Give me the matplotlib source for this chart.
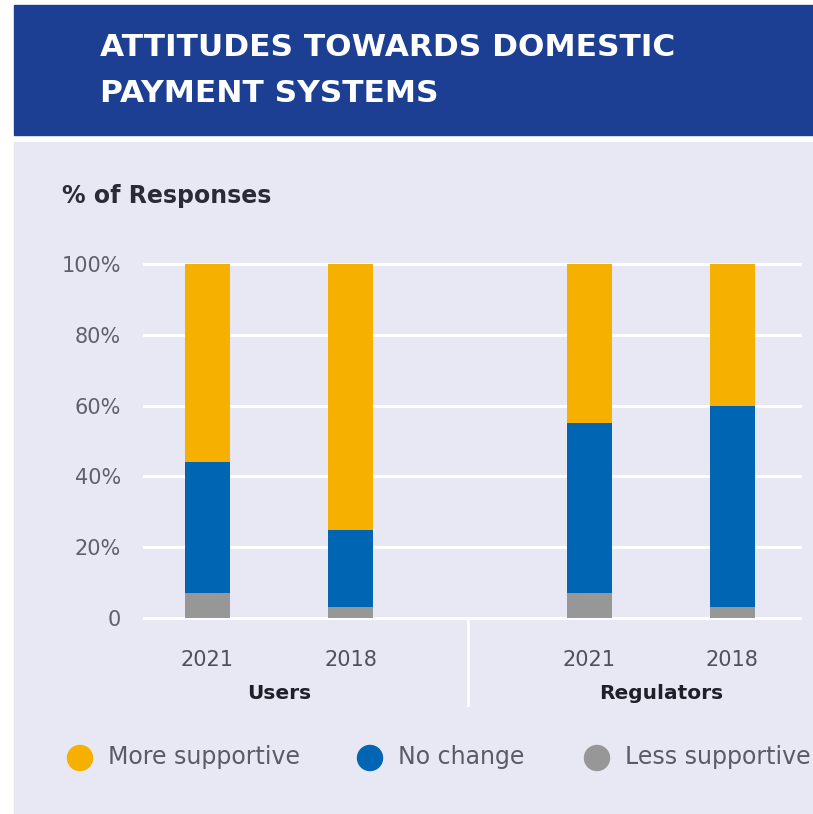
import matplotlib.pyplot as plt
from matplotlib.patches import Rectangle, Circle

# data (% of responses)
groups = ['Users', 'Regulators']
years = ['2021', '2018', '2021', '2018']
less_supportive = [7, 3, 7, 3]
no_change = [37, 22, 48, 57]
more_supportive = [56, 75, 45, 40]

legend_labels = ['More supportive', 'No change', 'Less supportive']
c_more = '#F5B000'
c_none = '#0066B3'
c_less = '#979797'
c_header = '#1C3F94'
c_panel = '#E8E8F4'

W, H = 813, 814
fig = plt.figure(figsize=(W / 100, H / 100), dpi=100)
fig.patch.set_facecolor('white')

# header + panel backgrounds (pixel coords -> figure fraction)
def px(x, y):
    return x / W, 1 - y / H

fig.patches.append(Rectangle(px(14, 135), (W - 14) / W, 130 / H,
                             transform=fig.transFigure, color=c_header, zorder=-2))
fig.patches.append(Rectangle(px(14, H), (W - 14) / W, (H - 142) / H,
                             transform=fig.transFigure, color=c_panel, zorder=-2))

fig.text(*px(100, 48), 'ATTITUDES TOWARDS DOMESTIC', color='white',
         fontsize=22.5, fontweight='bold', va='center', ha='left')
fig.text(*px(100, 94), 'PAYMENT SYSTEMS', color='white',
         fontsize=22.5, fontweight='bold', va='center', ha='left')
fig.text(*px(62, 196), '% of Responses', color='#2b2b38',
         fontsize=17, fontweight='bold', va='center', ha='left')

# y range padded a little so the 0 gridline is not clipped
ylo, yhi = -0.5, 101
ppu = 354 / 100  # pixels per percent
y_bot = 618 - ylo * ppu
y_top = 264 - (yhi - 100) * ppu
ax = fig.add_axes([143 / W, 1 - y_bot / H, (802 - 143) / W, (y_bot - y_top) / H])
ax.set_facecolor('none')
ax.set_zorder(1)

xpos = [0, 1, 2.671, 3.668]
bw = 0.315
ax.bar(xpos, less_supportive, bw, color=c_less, zorder=3)
ax.bar(xpos, no_change, bw, bottom=less_supportive, color=c_none, zorder=3)
bottom2 = [a + b for a, b in zip(less_supportive, no_change)]
ax.bar(xpos, more_supportive, bw, bottom=bottom2, color=c_more, zorder=3)

ax.set_xlim(-0.451, 4.157)
ax.set_ylim(ylo, yhi)
ax.set_yticks([0, 20, 40, 60, 80, 100])
ax.set_yticklabels(['0', '20%', '40%', '60%', '80%', '100%'])
ax.yaxis.grid(True, color='white', linewidth=2.2, zorder=0)
ax.set_axisbelow(True)
for s in ax.spines.values():
    s.set_visible(False)
ax.tick_params(axis='y', length=0, pad=16, labelsize=15, labelcolor='#5f5f6e')
ax.set_xticks(xpos)
ax.set_xticklabels(years)
ax.tick_params(axis='x', length=0, pad=22, labelsize=15, labelcolor='#4f4f5e')

tr = ax.get_xaxis_transform()
ax.text((xpos[0] + xpos[1]) / 2, -0.205, groups[0], transform=tr, ha='center',
        va='center', fontsize=14.5, fontweight='bold', color='#1f1f2a')
ax.text((xpos[2] + xpos[3]) / 2, -0.205, groups[1], transform=tr, ha='center',
        va='center', fontsize=14.5, fontweight='bold', color='#1f1f2a')
ax.plot([1.82, 1.82], [0, -24.5], color='white', lw=2, clip_on=False)

# legend
leg_x = [80, 370, 597]
for lx, lab, col in zip(leg_x, legend_labels, [c_more, c_none, c_less]):
    fig.patches.append(Circle(px(lx, 758), 12.5 / W, transform=fig.transFigure,
                              color=col, zorder=2))
    fig.text(*px(lx + 28, 757), lab, color='#5a5a68', fontsize=17,
             va='center', ha='left')

fig.savefig('out.png', dpi=100)
